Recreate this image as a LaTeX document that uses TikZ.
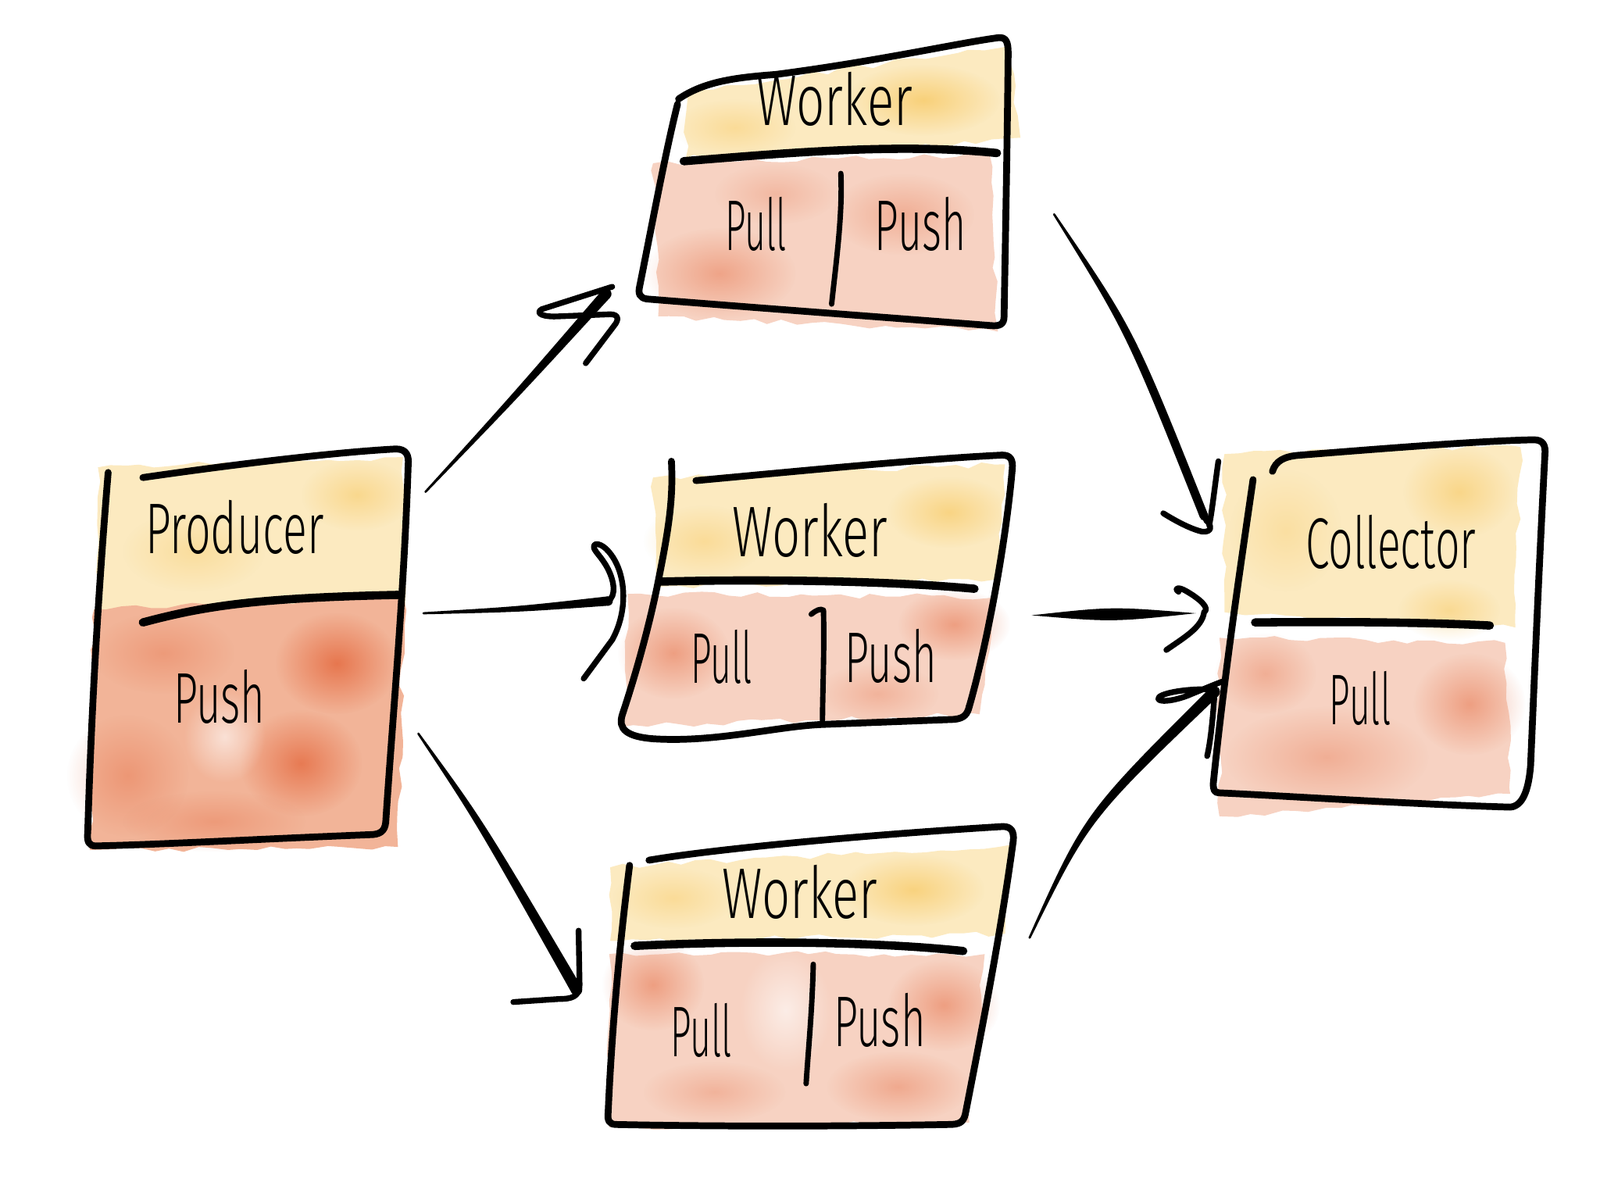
\documentclass[tikz,border=0pt]{standalone}
\usepackage{fontspec}
\usepackage{graphicx}
\newfontfamily\hand{Fira Sans Light}
\usetikzlibrary{calc,fadings,decorations.pathmorphing}
\definecolor{yelbase}{RGB}{252,234,192}
\definecolor{yeldark}{RGB}{247,198,92}
\definecolor{orgbase}{RGB}{247,210,194}
\definecolor{orgprod}{RGB}{242,180,152}
\definecolor{orgdark}{RGB}{229,108,66}
\tikzfading[name=softblob, inner color=transparent!0, outer color=transparent!100]
\newcommand\blob[5]{\fill[#1, path fading=softblob, fill opacity=#5] (#2) ellipse [x radius=#3, y radius=#4];}
% tapered stroke: #1 start, #2 control, #3 end, #4 start half-width, #5 end half-width, #6 middle half-width
\newcommand\taperw[6]{\fill[black] ($(#1)!#4!90:(#2)$) .. controls ($(#2)!#6!90:(#3)$) .. ($(#3)!#5!-90:(#2)$)
   -- ($(#3)!#5!90:(#2)$) .. controls ($(#2)!#6!-90:(#3)$) .. ($(#1)!#4!-90:(#2)$) -- cycle;
   \fill[black] (#3) circle (#5); \fill[black] (#1) circle (#4);}
\newcommand\spindle[4]{\fill[black] (#1) .. controls ($(#2)!#4!90:(#3)$) .. (#3) .. controls ($(#2)!#4!-90:(#3)$) .. (#1);}
\begin{document}
\begin{tikzpicture}[x=0.01cm,y=-0.01cm,line cap=round,line join=round,
  box/.style={draw=black,line width=1.9pt},
  sepline/.style={draw=black,line width=2.3pt},
  thinsep/.style={draw=black,line width=1.5pt},
  head/.style={draw=black,line width=1.6pt},
  lbl/.style={inner sep=0pt,font=\hand\fontsize{20}{22}\selectfont},
  wash/.style={decorate,decoration={random steps,segment length=4pt,amplitude=0.8pt}}]
\useasboundingbox (0,0) rectangle (1568,1176);
\fill[white] (0,0) rectangle (1568,1176);

% ---------- washes: Producer ----------
\fill[yelbase,wash] (96,458) -- (395,448) -- (397,592) -- (95,600) -- cycle;
\blob{yeldark}{350,485}{55}{35}{0.5}
\blob{yeldark}{190,540}{70}{40}{0.35}
\fill[orgprod,wash] (92,597) -- (396,586) -- (390,830) -- (88,833) -- cycle;
\blob{orgdark}{330,650}{60}{50}{0.85}
\blob{orgdark}{295,748}{60}{52}{0.8}
\blob{orgdark}{125,760}{60}{60}{0.4}
\blob{orgdark}{160,640}{70}{40}{0.35}
\blob{orgdark}{210,805}{90}{30}{0.35}
\blob{white}{220,722}{40}{45}{0.6}

% ---------- washes: top Worker ----------
\fill[yelbase,wash] (672,90) -- (990,45) -- (1000,135) -- (935,142) -- (672,155) -- cycle;
\blob{yeldark}{905,98}{75}{35}{0.7}
\blob{yeldark}{720,125}{60}{28}{0.4}
\fill[orgbase,wash] (640,160) -- (970,152) -- (978,325) -- (645,310) -- cycle;
\blob{orgdark}{705,268}{75}{45}{0.45}
\blob{orgdark}{885,210}{70}{40}{0.35}
\blob{orgdark}{760,190}{60}{30}{0.25}

% ---------- washes: middle Worker ----------
\fill[yelbase,wash] (640,468) -- (985,455) -- (975,568) -- (645,575) -- cycle;
\blob{yeldark}{930,502}{60}{35}{0.6}
\blob{yeldark}{690,530}{60}{35}{0.4}
\fill[orgbase,wash] (615,582) -- (975,585) -- (960,700) -- (612,712) -- cycle;
\blob{orgdark}{660,640}{55}{45}{0.5}
\blob{orgdark}{935,612}{55}{35}{0.5}
\blob{orgdark}{860,680}{60}{30}{0.3}

% ---------- washes: bottom Worker ----------
\fill[yelbase,wash] (598,850) -- (990,828) -- (985,915) -- (598,922) -- cycle;
\blob{yeldark}{895,872}{70}{35}{0.65}
\blob{yeldark}{660,880}{60}{30}{0.4}
\fill[orgbase,wash] (597,935) -- (965,935) -- (950,1100) -- (597,1105) -- cycle;
\blob{orgdark}{640,965}{50}{45}{0.5}
\blob{orgdark}{925,985}{55}{45}{0.5}
\blob{orgdark}{880,1065}{70}{35}{0.4}
\blob{orgdark}{700,1070}{70}{30}{0.3}
\blob{white}{770,990}{45}{60}{0.6}

% ---------- washes: Collector ----------
\fill[yelbase,wash] (1200,445) -- (1490,438) -- (1485,615) -- (1200,600) -- cycle;
\blob{yeldark}{1430,482}{55}{45}{0.55}
\blob{yeldark}{1420,598}{50}{30}{0.45}
\blob{yeldark}{1260,520}{55}{60}{0.3}
\fill[orgbase,wash] (1195,625) -- (1475,630) -- (1480,778) -- (1195,800) -- cycle;
\blob{orgdark}{1440,690}{55}{50}{0.5}
\blob{orgdark}{1300,742}{100}{50}{0.35}
\blob{orgdark}{1240,660}{50}{40}{0.35}

% ---------- Producer box ----------
\draw[box] (140,468) .. controls (230,455) and (330,443) .. (388,440)
  .. controls (398,440) and (401,446) .. (400,456)
  .. controls (396,580) and (385,700) .. (378,806)
  .. controls (377,815) and (372,818) .. (362,818)
  .. controls (260,822) and (150,828) .. (94,829)
  .. controls (87,829) and (85,825) .. (86,815)
  .. controls (90,680) and (98,560) .. (106,463);
\draw[sepline] (140,610) .. controls (200,594) and (250,586) .. (390,583);
\node[lbl] (prodname) at (230,517) {\resizebox{1.75cm}{\height}{Producer}};
\node[lbl] (prodpush) at (215,683) {\resizebox{0.9cm}{\height}{Push}};

% ---------- top Worker ----------
\draw[box] (665,97) .. controls (690,80) and (720,76) .. (760,73)
  .. controls (860,60) and (940,42) .. (978,37)
  .. controls (986,36) and (988,41) .. (988,52)
  .. controls (987,150) and (985,250) .. (984,310)
  .. controls (984,318) and (980,320) .. (970,319)
  .. controls (880,312) and (720,300) .. (634,293)
  .. controls (627,292) and (625,288) .. (627,280)
  .. controls (640,215) and (652,150) .. (664,102);
\draw[sepline] (670,158) .. controls (770,150) and (880,140) .. (977,150);
\draw[thinsep] (824,170) .. controls (826,210) and (819,260) .. (815,298);
\node[lbl] (w1name) at (818,97) {\resizebox{1.53cm}{\height}{Worker}};
\node[lbl] (w1pull) at (741,220) {\resizebox{0.6cm}{\height}{Pull}};
\node[lbl] (w1push) at (902,220) {\resizebox{0.89cm}{\height}{Push}};

% ---------- middle Worker ----------
\draw[box] (658,452) .. controls (660,490) and (655,520) .. (645,570)
  .. controls (635,620) and (620,670) .. (610,700)
  .. controls (605,715) and (615,722) .. (640,724)
  .. controls (700,728) and (760,712) .. (805,710)
  -- (935,705) .. controls (945,704) and (948,700) .. (950,692);
\draw[box] (682,471) .. controls (780,462) and (900,450) .. (982,446)
  .. controls (990,446) and (993,450) .. (992,460)
  .. controls (985,540) and (965,640) .. (950,692);
\draw[sepline] (647,570) .. controls (760,567) and (880,570) .. (955,577);
\draw[thinsep] (795,602) .. controls (800,598) and (804,596) .. (807,598)
  .. controls (808,640) and (806,680) .. (806,710);
\node[lbl] (w2name) at (794,520) {\resizebox{1.52cm}{\height}{Worker}};
\node[lbl] (w2pull) at (707,644) {\resizebox{0.6cm}{\height}{Pull}};
\node[lbl] (w2push) at (873,643) {\resizebox{0.9cm}{\height}{Push}};

% ---------- bottom Worker ----------
\draw[box] (636,843) .. controls (700,832) and (850,818) .. (983,810)
  .. controls (991,810) and (994,815) .. (993,824)
  .. controls (980,920) and (960,1020) .. (946,1092)
  .. controls (944,1100) and (940,1102) .. (930,1102)
  .. controls (820,1104) and (700,1104) .. (604,1102)
  .. controls (597,1102) and (595,1098) .. (596,1090)
  .. controls (600,1000) and (608,920) .. (617,848);
\draw[sepline] (622,927) .. controls (720,922) and (850,922) .. (944,932);
\draw[thinsep] (797,945) .. controls (796,990) and (792,1030) .. (790,1062);
\node[lbl] (w3name) at (784,874) {\resizebox{1.52cm}{\height}{Worker}};
\node[lbl] (w3pull) at (687,1010) {\resizebox{0.6cm}{\height}{Pull}};
\node[lbl] (w3push) at (862,1000) {\resizebox{0.9cm}{\height}{Push}};

% ---------- Collector ----------
\draw[box] (1247,462) .. controls (1250,452) and (1258,447) .. (1275,446)
  .. controls (1350,440) and (1450,432) .. (1503,431)
  .. controls (1512,431) and (1515,436) .. (1514,446)
  .. controls (1508,560) and (1503,680) .. (1500,750)
  .. controls (1498,775) and (1492,790) .. (1480,791)
  .. controls (1380,788) and (1260,780) .. (1195,777)
  .. controls (1190,777) and (1189,774) .. (1189,768)
  .. controls (1200,660) and (1215,560) .. (1228,470);
\draw[sepline] (1230,610) .. controls (1320,609) and (1400,610) .. (1460,613);
\node[lbl] (colname) at (1363,531) {\resizebox{1.67cm}{\height}{Collector}};
\node[lbl] (colpull) at (1333,684) {\resizebox{0.6cm}{\height}{Pull}};

% ---------- arrows ----------
\coordinate (a1s) at (417,482); \coordinate (a1c) at (505,388); \coordinate (a1e) at (594,288);
\taperw{a1s}{a1c}{a1e}{0.3pt}{1.5pt}{0.9pt}
\draw[head] (600,281) -- (531,303) .. controls (524,307) and (532,311) .. (548,310)
  -- (598,308) .. controls (606,308) and (607,313) .. (602,319) -- (574,356);

\coordinate (a2s) at (415,601); \coordinate (a2c) at (510,597); \coordinate (a2e) at (596,589);
\taperw{a2s}{a2c}{a2e}{0.3pt}{1.3pt}{0.8pt}
\draw[head] (596,589) .. controls (604,584) and (602,570) .. (596,558)
  .. controls (590,546) and (582,540) .. (582,536)
  .. controls (582,531) and (590,533) .. (596,540)
  .. controls (614,560) and (616,598) .. (600,627) -- (572,665);

\coordinate (a3s) at (410,719); \coordinate (a3c) at (470,805); \coordinate (a3e) at (565,970);
\taperw{a3s}{a3c}{a3e}{0.3pt}{1.6pt}{1.0pt}
\draw[head] (567,912) -- (568,965) .. controls (568,977) and (560,979) .. (548,979) -- (503,982);

\coordinate (a4s) at (1033,210); \coordinate (a4c) at (1108,325); \coordinate (a4e) at (1180,506);
\taperw{a4s}{a4c}{a4e}{0.3pt}{1.2pt}{1.2pt}
\draw[head] (1194,452) .. controls (1190,480) and (1188,500) .. (1185,515);
\draw[head] (1140,503) .. controls (1148,508) and (1165,518) .. (1178,521)
  .. controls (1188,522) and (1188,515) .. (1182,510);

\coordinate (a5s) at (1011,603); \coordinate (a5c) at (1090,602); \coordinate (a5e) at (1172,601);
\spindle{a5s}{a5c}{a5e}{2.2pt}
\draw[head] (1155,580) .. controls (1150,576) and (1155,575) .. (1162,579)
  .. controls (1176,587) and (1186,596) .. (1180,600)
  .. controls (1178,615) and (1160,625) .. (1143,637);

\coordinate (a6s) at (1009,919); \coordinate (a6c) at (1065,800); \coordinate (a6e) at (1190,678);
\taperw{a6s}{a6c}{a6e}{0.3pt}{1.6pt}{1.1pt}
\draw[head] (1192,676) .. controls (1170,674) and (1142,678) .. (1136,683)
  .. controls (1131,689) and (1150,688) .. (1168,680)
  .. controls (1185,673) and (1197,668) .. (1198,668);
\draw[head] (1190,684) .. controls (1188,710) and (1186,728) .. (1183,741);
\end{tikzpicture}
\end{document}
